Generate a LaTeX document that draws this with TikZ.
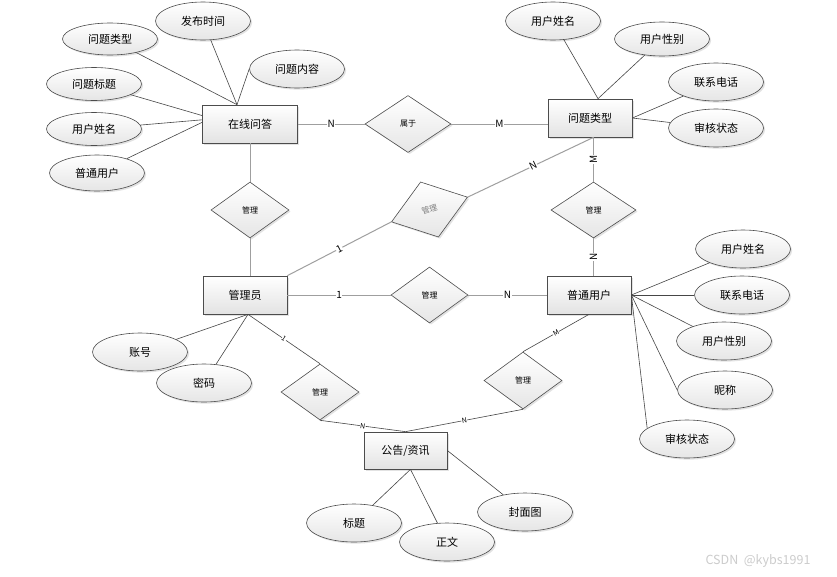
\documentclass[tikz,border=0pt]{standalone}
\usepackage{fontspec}
\setmainfont{Noto Sans CJK SC}
\usetikzlibrary{shapes.geometric,shadows}
\begin{document}
\begin{tikzpicture}[x=1pt,y=-1pt,
  shd/.style={drop shadow={shadow xshift=1.6pt,shadow yshift=-1.6pt,fill=gray!45}},
  ent/.style={rectangle,draw=gray!60!black,line width=0.7pt,minimum width=84pt,minimum height=38pt,inner sep=0pt,
    top color=white,bottom color=gray!22,shd,font=\fontsize{11}{13}\selectfont},
  attr/.style={ellipse,draw=gray!60!black,line width=0.6pt,minimum width=95pt,minimum height=38pt,inner sep=0pt,
    top color=white,bottom color=gray!20,shd,font=\fontsize{11}{13}\selectfont},
  rel/.style={diamond,draw=gray!60!black,line width=0.6pt,minimum width=78pt,minimum height=56pt,inner sep=0pt,
    top color=white,bottom color=gray!20,shd,font=\fontsize{8}{9}\selectfont},
  rline/.style={draw=gray!75,line width=1pt},
  tline/.style={draw=gray!55!black,line width=0.6pt},
  aline/.style={draw=gray!55!black,line width=0.6pt},
  lab/.style={fill=white,inner sep=0.6pt,font=\fontsize{10}{11}\selectfont},
  slab/.style={fill=white,inner sep=0.4pt,font=\fontsize{7}{8}\selectfont}]
\useasboundingbox (0,0) rectangle (837,576);
\fill[white] (0,0) rectangle (837,576);

% entities
\node[ent,minimum width=95pt] (zx) at (250,124) {在线问答};
\node[ent] (wt) at (590,118) {问题类型};
\node[ent] (gl) at (245,295) {管理员};
\node[ent] (pu) at (589,295) {普通用户};
\node[ent,minimum width=83pt,minimum height=37pt] (gg) at (405.5,450.5) {公告/资讯};

% relationships
\node[rel,minimum width=86pt,minimum height=57pt] (sy) at (408,124) {属于};
\node[rel] (m1) at (250,210) {管理};
\node[rel,rotate=18,minimum width=80pt,minimum height=58pt,text=gray] (m2) at (429.5,209.5) {管理};
\node[rel,minimum width=85pt] (m3) at (593.5,210) {管理};
\node[rel,minimum width=77pt] (m4) at (429.5,295) {管理};
\node[rel] (m5) at (320,392) {管理};
\node[rel,minimum height=57pt] (m6) at (523,380.5) {管理};

% attributes of 在线问答
\node[attr,minimum height=32pt] (a1) at (110,39) {问题类型};
\node[attr] (a2) at (203,21) {发布时间};
\node[attr] (a3) at (297,69) {问题内容};
\node[attr,minimum height=33pt] (a4) at (94,84) {问题标题};
\node[attr,minimum height=33pt] (a5) at (94,129) {用户姓名};
\node[attr,minimum height=36pt] (a6) at (97,173) {普通用户};

% attributes of 问题类型
\node[attr] (b1) at (553,21) {用户姓名};
\node[attr,minimum height=34pt] (b2) at (662,39) {用户性别};
\node[attr] (b3) at (716,82) {联系电话};
\node[attr] (b4) at (716,128) {审核状态};

% attributes of 普通用户
\node[attr] (c1) at (743,249) {用户姓名};
\node[attr] (c2) at (742,295) {联系电话};
\node[attr] (c3) at (724,341) {用户性别};
\node[attr] (c4) at (725,390) {昵称};
\node[attr] (c5) at (687,439) {审核状态};

% attributes of 管理员
\node[attr] (d1) at (140,352) {账号};
\node[attr] (d2) at (204,383) {密码};

% attributes of 公告/资讯
\node[attr] (e1) at (354,523) {标题};
\node[attr] (e2) at (447,542) {正文};
\node[attr] (e3) at (525,512) {封面图};

% anchor points
\coordinate[xshift=-13pt] (zxt) at (zx.north);
\coordinate[xshift=8pt] (wtt) at (wt.north);
\coordinate[xshift=3pt] (glb) at (gl.south);
\coordinate[xshift=5pt] (ggb) at (gg.south);

% attribute lines
\draw[aline] (a1) -- (zxt);
\draw[aline] (a2) -- (zxt);
\draw[aline] (a3.west) -- (zxt);
\draw[aline] (a4) -- (zx.170);
\draw[aline] (a5) -- (zx.175);
\draw[aline] (a6) -- (zx.178);

\draw[aline] (b1) -- (wtt);
\draw[aline] (b2) -- (wtt);
\draw[aline] (b3) -- (wt.east);
\draw[aline] (b4) -- (wt.east);

\draw[aline] (c1) -- (pu.east);
\draw[aline] (c2) -- (pu.east);
\draw[aline] (c3.155) -- (pu.east);
\draw[aline] (c4.west) -- (pu.east);
\draw[aline] (c5.165) -- (pu.east);

\draw[aline] (d1) -- (glb);
\draw[aline] (d2) -- (glb);

\draw[aline] (e1) -- (ggb);
\draw[aline] (e2) -- (ggb);
\draw[aline] (e3) -- (gg.east);

% relationship lines
\draw[rline] (zx.east) -- node[lab]{N} (sy.west);
\draw[rline] (sy.east) -- node[lab]{M} (sy.east -| wt.west);
\draw[rline] (zx.south) -- (m1.north);
\draw[rline] (m1.south) -- (m1.south |- gl.north);
\draw[rline] (gl.north east) -- node[lab,sloped]{1} (m2.west);
\draw[rline] (m2.east) -- node[lab,sloped,pos=0.52]{N} (m3.north |- wt.south);
\draw[rline] (m3.north |- wt.south) -- node[lab,rotate=90]{M} (m3.north);
\draw[rline] (m3.south) -- node[lab,rotate=90]{N} (m3.south |- pu.north);
\draw[rline] (gl.east) -- node[lab]{1} (m4.west);
\draw[rline] (m4.east) -- node[lab]{N} (pu.west);
\draw[tline] (glb) -- node[slab,sloped]{1} (m5.north);
\draw[tline] (m5.south) -- node[slab,sloped]{N} (gg.north);
\draw[tline] (pu.south) -- node[slab,sloped]{M} (m6.north);
\draw[tline] (m6.south) -- node[slab,sloped]{N} (gg.north);

% watermark
\node[font=\fontsize{12.5}{14}\selectfont,text=gray!40] (wm) at (758,561) {CSDN\ \ @kybs1991};
\end{tikzpicture}
\end{document}
